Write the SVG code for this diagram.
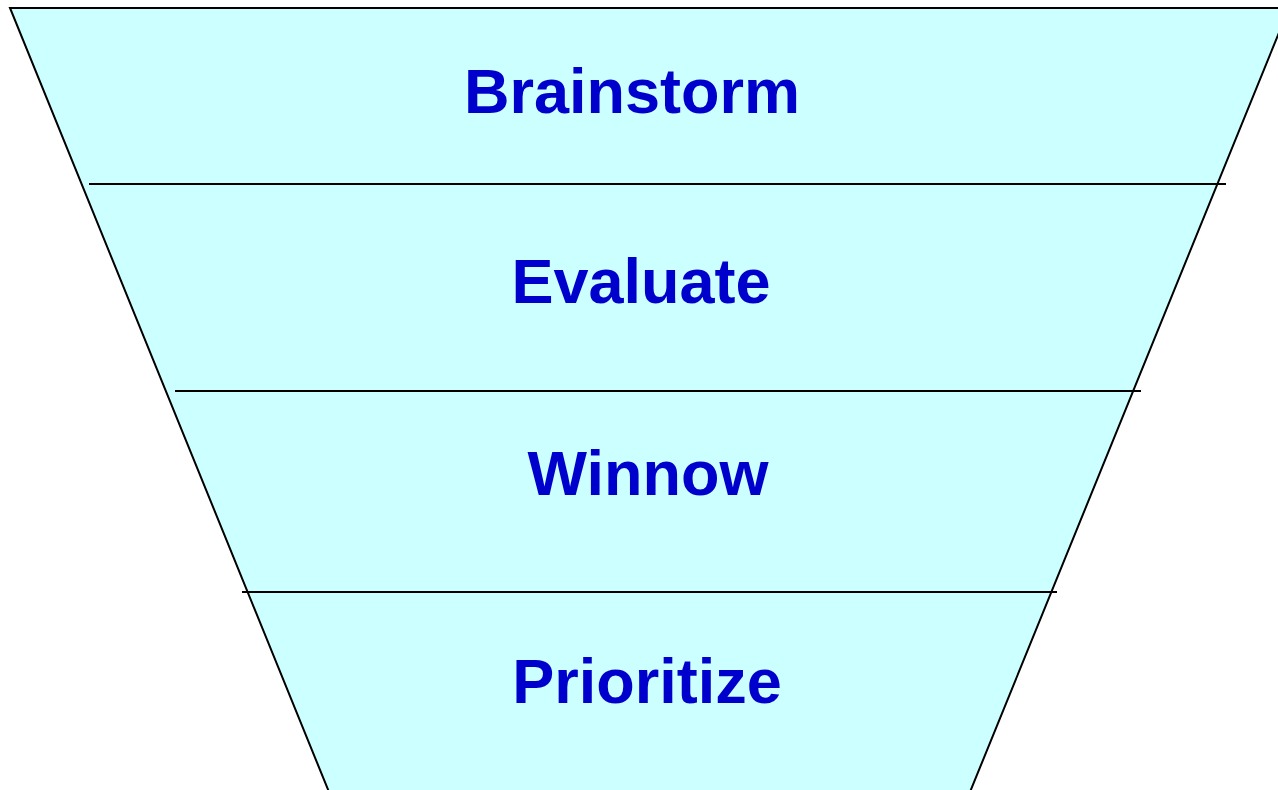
<svg xmlns="http://www.w3.org/2000/svg" width="1278" height="790" viewBox="0 0 1278 790">
<style>
.lbl{font-family:"Liberation Sans",Arial,sans-serif;font-weight:bold;font-size:63px;fill:#0000CC;text-anchor:middle}
.div{stroke:#000;stroke-width:2;fill:none}
</style>
<rect width="1278" height="790" fill="#fff"/>
<g id="funnel">
<polygon points="10,8 1289,8 970,792 329,792" fill="#CCFFFF" stroke="#000" stroke-width="2"/>
</g>
<g id="connectors">
<line class="div" x1="89" y1="184" x2="1226" y2="184"/>
<line class="div" x1="175" y1="391" x2="1141" y2="391"/>
<line class="div" x1="242" y1="592" x2="1057" y2="592"/>
</g>
<g id="brainstorm"><text class="lbl" x="632" y="113">Brainstorm</text></g>
<g id="evaluate"><text class="lbl" x="641" y="303">Evaluate</text></g>
<g id="winnow"><text class="lbl" x="648" y="495">Winnow</text></g>
<g id="prioritize"><text class="lbl" x="647" y="703">Prioritize</text></g>
</svg>
